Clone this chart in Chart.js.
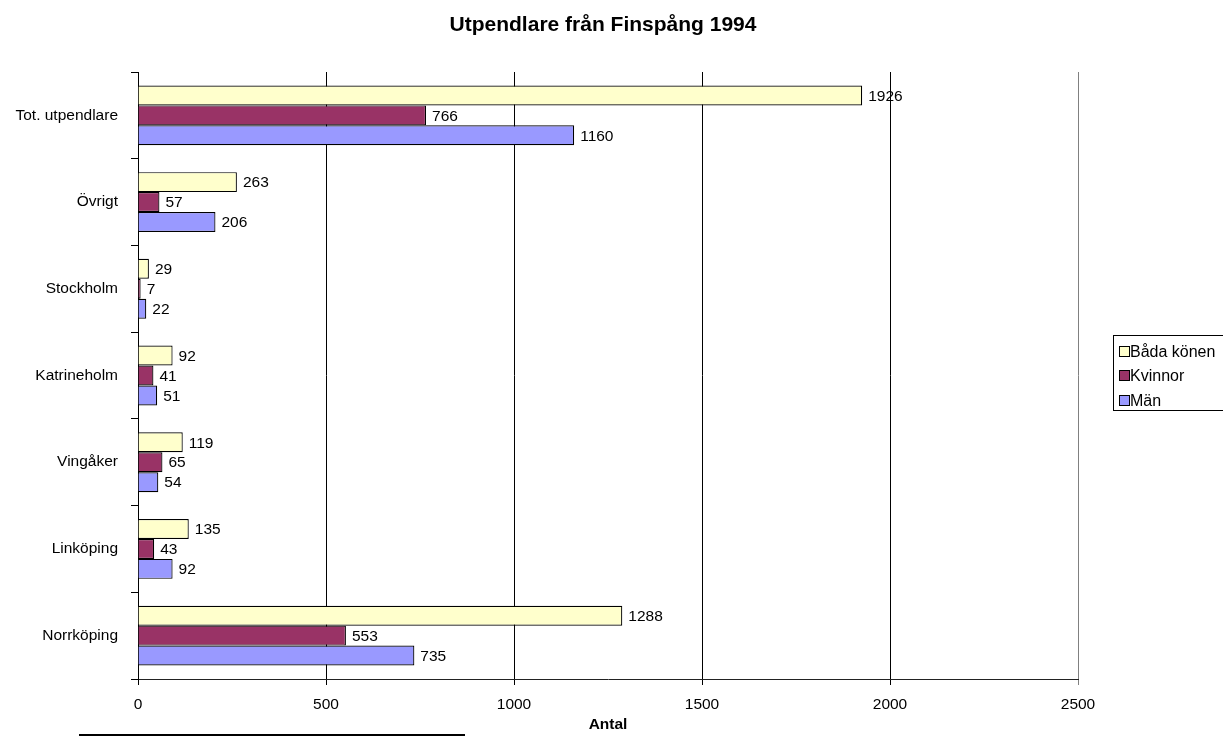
<!DOCTYPE html>
<html>
<head>
<meta charset="utf-8">
<script src="https://cdn.jsdelivr.net/npm/chart.js@4/dist/chart.umd.min.js"></script>
<style>
  html, body { margin: 0; padding: 0; background: #fff; }
  #wrap { position: relative; width: 1223px; height: 740px; }
  #line { position: absolute; left: 79px; top: 734px; width: 386px; height: 2px; background: #000; }
</style>
</head>
<body>
<div id="wrap">
  <canvas id="c" width="1223" height="740"></canvas>
  <div id="line"></div>
</div>
<script>
const categories = ["Tot. utpendlare", "Övrigt", "Stockholm", "Katrineholm", "Vingåker", "Linköping", "Norrköping"];
const seriesNames = ["Båda könen", "Kvinnor", "Män"];
const badaKonen = [1926, 263, 29, 92, 119, 135, 1288];
const kvinnor = [766, 57, 7, 41, 65, 43, 553];
const man = [1160, 206, 22, 51, 54, 92, 735];
const xTicks = [0, 500, 1000, 1500, 2000, 2500];
const chartTitle = "Utpendlare från Finspång 1994";
const xTitle = "Antal";
const colors = ["#FFFFCC", "#993366", "#9999FF"];

const FONT = "'Liberation Sans', Arial, sans-serif";
const FS = 15.5;

const labelsPlugin = {
  id: 'extras',
  afterDatasetsDraw(chart) {
    const ctx = chart.ctx;
    ctx.save();
    ctx.font = FS + "px " + FONT;
    ctx.fillStyle = "#000";
    ctx.textAlign = "left";
    ctx.textBaseline = "middle";
    chart.data.datasets.forEach((ds, i) => {
      const meta = chart.getDatasetMeta(i);
      meta.data.forEach((bar, j) => {
        ctx.fillText(String(ds.data[j]), bar.x + 6, bar.y + 1);
      });
    });
    ctx.restore();
  },
  afterDraw(chart) {
    const ctx = chart.ctx;
    const ca = chart.chartArea;
    ctx.save();
    // Title
    ctx.font = "bold 21px " + FONT;
    ctx.fillStyle = "#000";
    ctx.textAlign = "center";
    ctx.textBaseline = "middle";
    ctx.fillText(chartTitle, 603, 25);
    // Axis title
    ctx.font = "bold " + FS + "px " + FONT;
    ctx.fillText(xTitle, (ca.left + ca.right) / 2, 725);
    // Legend
    const lx = 1113.5, ly = 335.5, lw = 120, lh = 75;
    ctx.strokeStyle = "#000";
    ctx.lineWidth = 1;
    ctx.strokeRect(lx, ly, lw, lh);
    ctx.font = "16px " + FONT;
    ctx.textAlign = "left";
    const rows = [352, 376, 401];
    seriesNames.forEach((name, i) => {
      const y = rows[i];
      ctx.fillStyle = colors[i];
      ctx.fillRect(1119, y - 5, 10, 10);
      ctx.strokeRect(1119.5, y - 5.5, 10, 10);
      ctx.fillStyle = "#000";
      ctx.fillText(name, 1130, y + 1);
    });
    ctx.restore();
  }
};

new Chart(document.getElementById('c'), {
  type: 'bar',
  data: {
    labels: categories,
    datasets: [
      { label: seriesNames[0], data: badaKonen, backgroundColor: colors[0] },
      { label: seriesNames[1], data: kvinnor, backgroundColor: colors[1] },
      { label: seriesNames[2], data: man, backgroundColor: colors[2] }
    ].map(d => Object.assign(d, { borderColor: "#000", borderWidth: 1.2, categoryPercentage: 0.69, barPercentage: 1.0 }))
  },
  options: {
    indexAxis: 'y',
    responsive: false,
    animation: false,
    layout: { padding: { top: 72, right: 145, bottom: 0, left: 0 } },
    plugins: { legend: { display: false }, title: { display: false }, tooltip: { enabled: false } },
    scales: {
      x: {
        min: 0, max: 2500,
        afterBuildTicks(scale) { scale.ticks = xTicks.map(v => ({ value: v })); },
        afterFit(scale) { scale.height = 61; },
        grid: {
          color: ctx => (ctx.tick && ctx.tick.value === 2500) ? "#808080" : "#000",
          lineWidth: 1,
          tickLength: 6,
          drawOnChartArea: true
        },
        border: { display: true, color: "#222" },
        ticks: { color: "#000", font: { family: FONT, size: FS }, padding: 10, maxRotation: 0,
                 callback: v => String(v) }
      },
      y: {
        afterFit(scale) { scale.width = 138; },
        grid: { display: true, drawOnChartArea: false, color: "#000", tickLength: 7, offset: true },
        border: { display: true, color: "#000" },
        ticks: { color: "#000", font: { family: FONT, size: FS }, padding: 13 }
      }
    }
  },
  plugins: [labelsPlugin]
});
</script>
</body>
</html>
